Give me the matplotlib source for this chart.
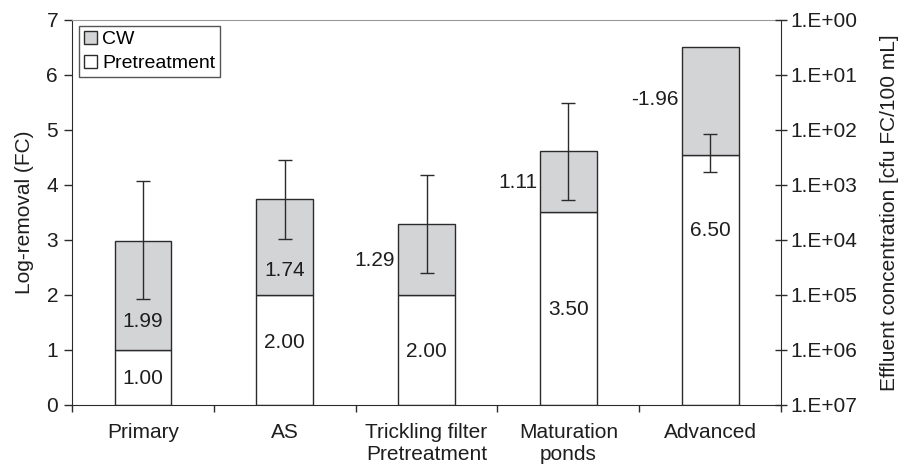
import numpy as np
import matplotlib.pyplot as plt
from matplotlib.ticker import FixedLocator, FuncFormatter

plt.rcParams['font.family'] = ['Liberation Sans', 'DejaVu Sans']

# data
categories = ['Primary', 'AS', 'Trickling filter\nPretreatment', 'Maturation\nponds', 'Advanced']
pretreatment = [1.00, 2.00, 2.00, 3.50, 4.54]
cw = [1.99, 1.74, 1.29, 1.11, 1.96]
pre_labels = ['1.00', '2.00', '2.00', '3.50', '6.50']
cw_labels = ['1.99', '1.74', '1.29', '1.11', '-1.96']
err_center = [3.00, 3.74, 3.29, 4.61, 4.58]
err_half = [1.07, 0.72, 0.89, 0.88, 0.35]

# where the data labels sit (as in the original figure)
pre_label_y = [0.49, 1.14, 0.98, 1.73, 3.18]
cw_label_y = [1.51, 2.44, 2.62, 4.04, 5.55]
cw_label_side = ['in', 'in', 'left', 'left', 'left']

edge = '#2b2b2b'
grey = '#d3d4d6'
txt = '#1e1e1e'

fig = plt.figure(figsize=(9.04, 4.67), dpi=100)
ax = fig.add_axes([0.0796, 0.1328, 0.7844, 0.8244])

x = np.arange(len(categories))
w = 0.4
ax.bar(x, pretreatment, w, color='white', edgecolor=edge, linewidth=1.0, label='Pretreatment', zorder=2)
ax.bar(x, cw, w, bottom=pretreatment, color=grey, edgecolor=edge, linewidth=1.0, label='CW', zorder=2)
ax.errorbar(x, err_center, yerr=err_half, fmt='none', ecolor=edge, elinewidth=1.0,
            capsize=5, capthick=1.0, zorder=3)

fs = 15
for i in range(len(x)):
    ax.text(x[i], pre_label_y[i], pre_labels[i], ha='center', va='center', fontsize=fs, color=txt, zorder=4)
    if cw_label_side[i] == 'in':
        ax.text(x[i], cw_label_y[i], cw_labels[i], ha='center', va='center', fontsize=fs, color=txt, zorder=4)
    else:
        ax.text(x[i] - w / 2 - 0.02, cw_label_y[i], cw_labels[i], ha='right', va='center',
                fontsize=fs, color=txt, zorder=4)

ax.set_xlim(-0.5, len(categories) - 0.5)
ax.set_ylim(0, 7)
ax.set_yticks(range(0, 8))
ax.set_ylabel('Log-removal (FC)', fontsize=fs, color=txt, labelpad=9)
ax.set_xticks(x)
ax.set_xticklabels(categories, fontsize=fs, color=txt, linespacing=1.2)
ax.xaxis.set_minor_locator(FixedLocator(np.arange(-0.5, len(categories), 1.0)))
ax.tick_params(axis='x', which='major', length=0, pad=13)
ax.tick_params(axis='x', which='minor', length=5, width=1.0, color=edge, direction='out')
ax.tick_params(axis='y', length=6, width=1.0, color=edge, labelsize=fs, labelcolor=txt, pad=4)
ax.spines['left'].set_color(edge)
ax.spines['bottom'].set_color(edge)
ax.spines['top'].set_color('#9a9a9a')
ax.spines['right'].set_visible(False)

# right axis: effluent concentration, log scale running downwards
ax2 = ax.twinx()
ax2.set_yscale('log')
ax2.set_ylim(1e7, 1e0)
ax2.yaxis.set_major_locator(FixedLocator([10.0 ** k for k in range(0, 8)]))
ax2.yaxis.set_minor_locator(FixedLocator([]))
ax2.yaxis.set_major_formatter(FuncFormatter(lambda v, p: '1.E+%02d' % round(np.log10(v))))
ax2.tick_params(axis='y', direction='inout', length=8, width=1.0, color=edge, labelsize=fs,
                labelcolor=txt, pad=3)
ax2.set_ylabel('Effluent concentration [cfu FC/100 mL]', fontsize=fs, color=txt, labelpad=16)
ax2.spines['right'].set_color(edge)
ax2.spines['top'].set_visible(False)
ax2.spines['left'].set_visible(False)
ax2.spines['bottom'].set_visible(False)

h, l = ax.get_legend_handles_labels()
leg = ax.legend(h[::-1], l[::-1], loc='upper left', bbox_to_anchor=(0.01, 0.985), fontsize=14,
                frameon=True, fancybox=False, edgecolor=edge, handlelength=0.65, handleheight=0.65,
                handletextpad=0.3, borderpad=0.25, labelspacing=0.35, borderaxespad=0.0)
leg.get_frame().set_linewidth(1.0)

fig.savefig('out.png', dpi=100)
